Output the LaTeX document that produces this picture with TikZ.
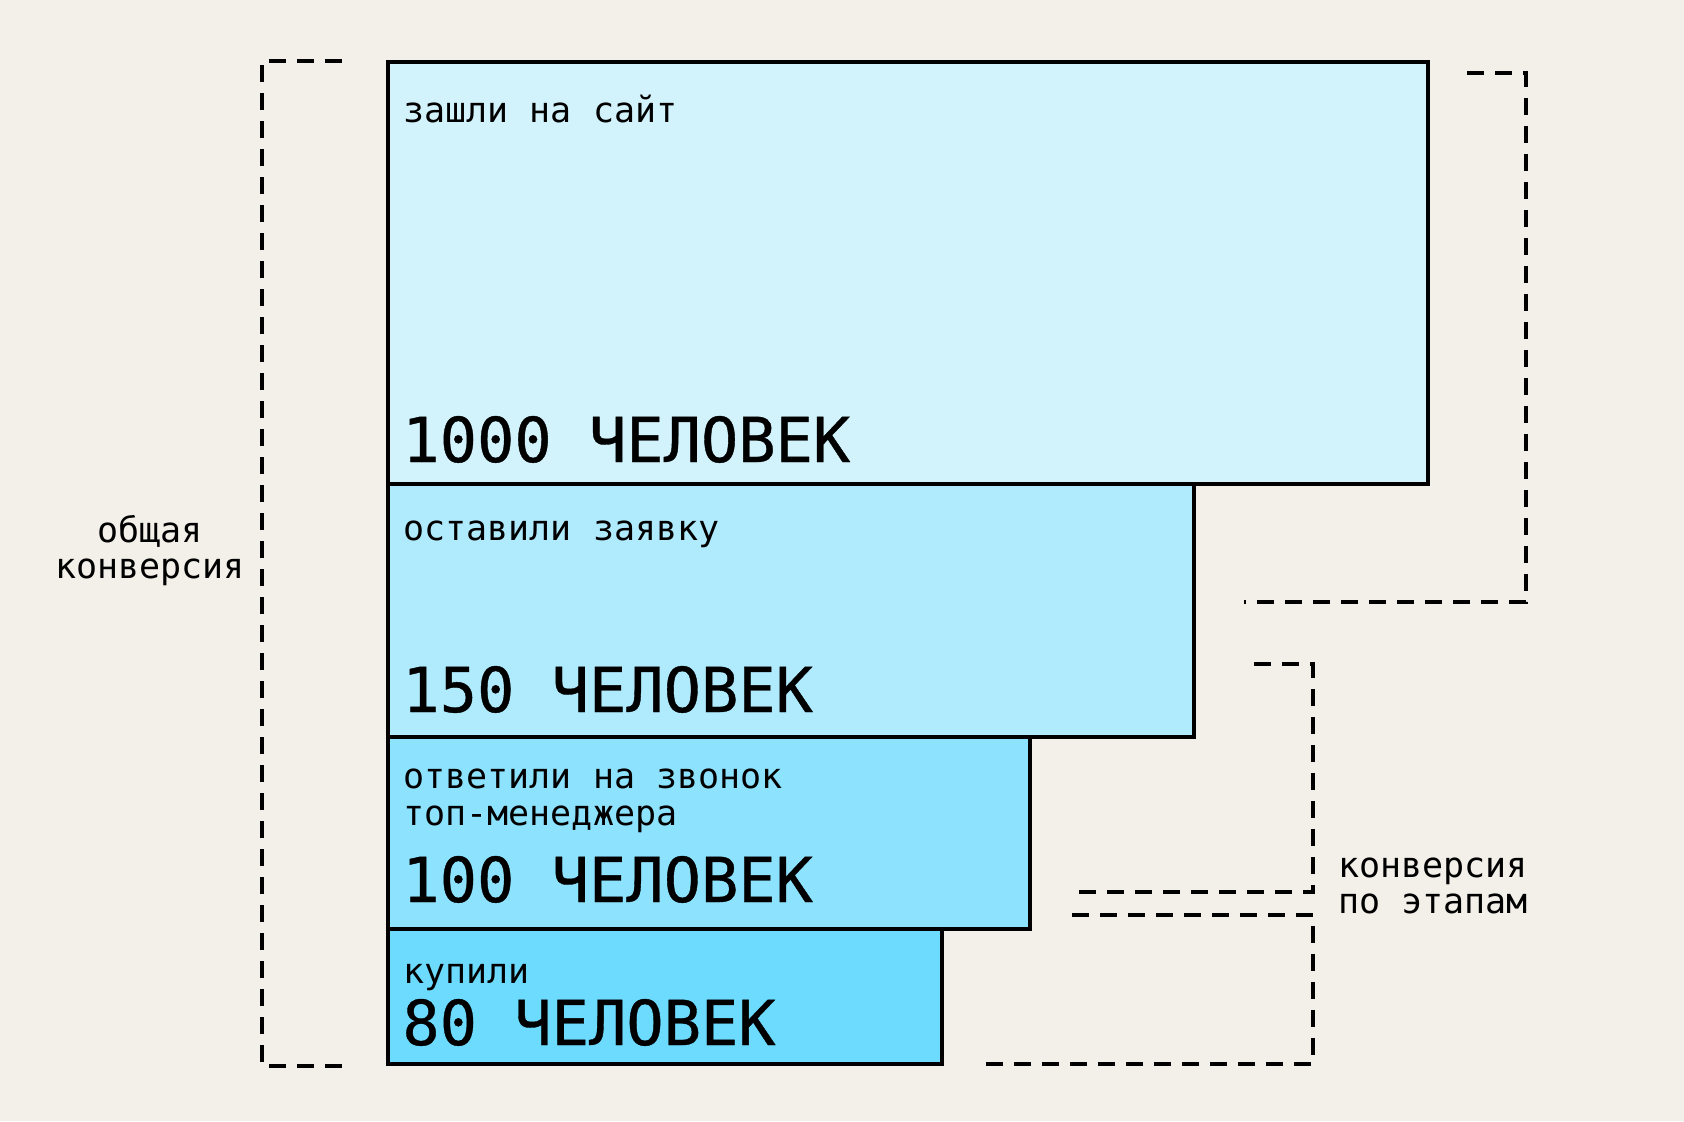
\documentclass[tikz,border=0pt]{standalone}
\usepackage{fontspec}
\newfontfamily\mono{DejaVu Sans Mono}
\newfontfamily\monobig[FakeBold=0.6]{DejaVu Sans Mono}
\definecolor{bg}{HTML}{F3F0EA}
\definecolor{cA}{HTML}{D2F3FC}
\definecolor{cB}{HTML}{B0EAFD}
\definecolor{cC}{HTML}{8DE2FD}
\definecolor{cD}{HTML}{6CDBFE}
\begin{document}
\begin{tikzpicture}[x=0.5pt,y=-0.5pt,
  box/.style={draw=black,line width=1.75pt,anchor=north west,inner sep=0pt,outer sep=0pt},
  small/.style={anchor=base west,inner sep=0pt,font=\mono\fontsize{17.5pt}{18pt}\selectfont},
  big/.style={anchor=base west,inner sep=0pt,font=\monobig\fontsize{31pt}{32pt}\selectfont},
  side/.style={inner sep=0pt,font=\mono\fontsize{17.5pt}{18pt}\selectfont},
  brk/.style={line width=1.6pt,dash pattern=on 8.5pt off 5.5pt}]
\fill[bg] (0,0) rectangle (1684,1121);
\useasboundingbox (0,0) rectangle (1684,1121);
% boxes
\node[box,fill=cA,minimum width=520pt,minimum height=211pt] (b1) at (388,62) {};
\node[box,fill=cB,minimum width=403pt,minimum height=126.5pt] (b2) at (388,484) {};
\node[box,fill=cC,minimum width=321pt,minimum height=96pt] (b3) at (388,737) {};
\node[box,fill=cD,minimum width=277pt,minimum height=67.5pt] (b4) at (388,929) {};
% texts
\node[small] (t1) at (403,122) {зашли на сайт};
\node[big] (n1) at (402,462) {1000 ЧЕЛОВЕК};
\node[small] (t2) at (403,540) {оставили заявку};
\node[big] (n2) at (402,712) {150 ЧЕЛОВЕК};
\node[small] (t3a) at (403,788) {ответили на звонок};
\node[small] (t3b) at (403,825) {топ-менеджера};
\node[big] (n3) at (402,902) {100 ЧЕЛОВЕК};
\node[small] (t4) at (403,983) {купили};
\node[big] (n4) at (402,1045) {80 ЧЕЛОВЕК};
% side labels
\node[side,anchor=base] (l1) at (150,542) {общая};
\node[side,anchor=base] (l2) at (150,578) {конверсия};
\node[side,anchor=base west] (r1) at (1338,877) {конверсия};
\node[side,anchor=base west] (r2) at (1338,913) {по этапам};
% brackets
\coordinate (la) at (342,61);
\coordinate (lb) at (262,61);
\coordinate (lc) at (262,1066);
\coordinate (ld) at (347,1066);
\draw[brk] (la) -- (lb) -- (lc) -- (ld);
\coordinate (ra) at (1467,73);
\coordinate (rb) at (1526,73);
\coordinate (rc) at (1526,602);
\coordinate (rd) at (1244,602);
\draw[brk] (ra) -- (rb) -- (rc) -- (rd);
\coordinate (sa) at (1254,664);
\coordinate (sb) at (1313,664);
\coordinate (sc) at (1313,892);
\coordinate (sd) at (1072,892);
\draw[brk] (sa) -- (sb) -- (sc) -- (sd);
\coordinate (se) at (1072,915);
\coordinate (sf) at (1313,915);
\coordinate (sg) at (1313,1064);
\coordinate (sh) at (984,1064);
\draw[brk] (se) -- (sf) -- (sg) -- (sh);
\end{tikzpicture}
\end{document}
